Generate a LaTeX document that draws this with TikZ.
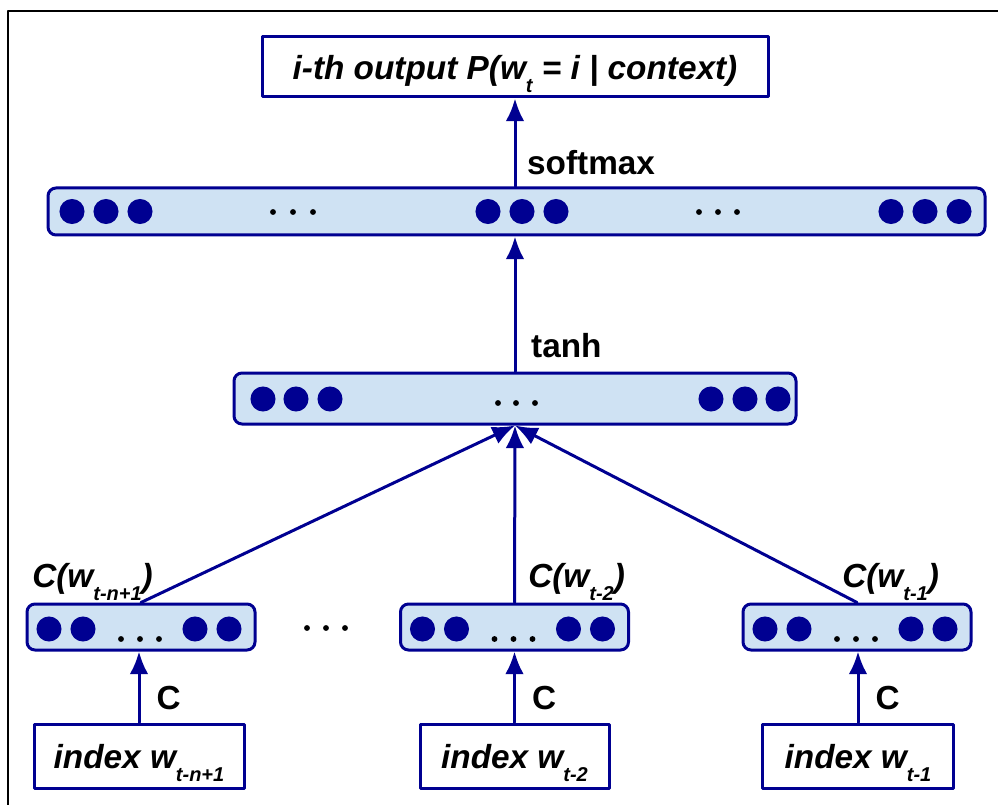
\documentclass[tikz,border=0pt]{standalone}
\usepackage{fontspec}
\setmainfont{Liberation Sans}
\usetikzlibrary{arrows.meta}
\definecolor{dblue}{RGB}{0,0,145}
\definecolor{lblue}{RGB}{207,226,243}
\newcommand\lowsub[1]{\raisebox{-10pt}{\fontsize{15}{15}\selectfont #1}}

\begin{document}
\begin{tikzpicture}[x=0.75pt,y=0.75pt,line cap=round,line join=round,
  font=\fontsize{25}{30}\selectfont\bfseries,
  box/.style={draw=dblue,line width=2.25pt,inner sep=0pt,font=\fontsize{25}{30}\selectfont\bfseries\itshape},
  layer/.style={draw=dblue,line width=2.25pt,fill=lblue,rounded corners=6pt,inner sep=0pt},
  link/.style={draw=dblue,line width=2.25pt,-{Latex[length=17pt,width=14pt]}},
  lbl/.style={inner sep=1pt},
  emblbl/.style={inner sep=0pt,anchor=base west,font=\fontsize{25}{30}\selectfont\bfseries\itshape}]
  \useasboundingbox (0,-805) rectangle (998,0);
  \draw[line width=2pt] (8,-806) -- (8,-11) -- (999,-11);
  % output box
  \node[box,minimum width=379.5pt,text height=32pt,text depth=13pt] (out) at (515,-67)
    {i-th output P(w\lowsub{t} = i | context)};
  % softmax layer
  \node[layer,minimum width=702.75pt,minimum height=35.25pt] (soft) at (516.5,-211.5) {};
  \foreach \x in {72,106,140,488,522,556,891,925,959}
    \fill[dblue] (\x,-211.5) circle (9.4pt);
  \foreach \x in {273,293,313,699,718,737}
    \fill (\x,-212) circle (2.2pt);
  % hidden layer
  \node[layer,minimum width=421.5pt,minimum height=38.25pt] (hid) at (515,-398.5) {};
  \foreach \x in {263,296,330,711,745,778}
    \fill[dblue] (\x,-399) circle (9.4pt);
  \foreach \x in {498,516,535}
    \fill (\x,-403) circle (2.2pt);
  % embedding layers
  \foreach \n/\c in {L/141,M/514.5,R/857}{
    \node[layer,minimum width=171pt,minimum height=34.5pt] (emb\n) at (\c,-627) {};
    \foreach \d in {-92,-58,54,88}
      \fill[dblue] (\c+\d,-629) circle (9.4pt);
    \foreach \d in {-20,-1,18}
      \fill (\c+\d,-639) circle (2.2pt);
  }
  \foreach \x in {307,326,345}
    \fill (\x,-628) circle (2.2pt);
  \node[emblbl] (lbL) at (32,-587) {C(w\lowsub{t-n+1})};
  \node[emblbl] (lbM) at (528,-587) {C(w\lowsub{t-2})};
  \node[emblbl] (lbR) at (842,-587) {C(w\lowsub{t-1})};
  % index boxes
  \node[box,minimum width=157.5pt,text height=33pt,text depth=15pt] (idxL) at (139,-756) {index w\lowsub{t-n+1}};
  \node[box,minimum width=141.75pt,text height=33pt,text depth=15pt] (idxM) at (514.5,-756) {index w\lowsub{t-2}};
  \node[box,minimum width=143.25pt,text height=33pt,text depth=15pt] (idxR) at (858,-756) {index w\lowsub{t-1}};
  % connectors
  \draw[link] (idxL.north) -- (idxL.north |- embL.south) node[pos=0.35,right=11pt,lbl] (cL) {C};
  \draw[link] (idxM.north) -- (idxM.north |- embM.south) node[pos=0.35,right=11pt,lbl] (cM) {C};
  \draw[link] (idxR.north) -- (idxR.north |- embR.south) node[pos=0.35,right=11pt,lbl] (cR) {C};
  \draw[link] (embL.north) -- (hid.south);
  \draw[link] (embM.north) -- (hid.south);
  \draw[link] (embR.north) -- (hid.south);
  \draw[link] (hid.north) -- (hid.north |- soft.south) node[pos=0.19,right=10pt,lbl] (tanhlbl) {tanh};
  \draw[link] (soft.north -| out.south) -- (out.south) node[pos=0.27,right=7pt,lbl] (smlbl) {softmax};
\end{tikzpicture}
\end{document}
